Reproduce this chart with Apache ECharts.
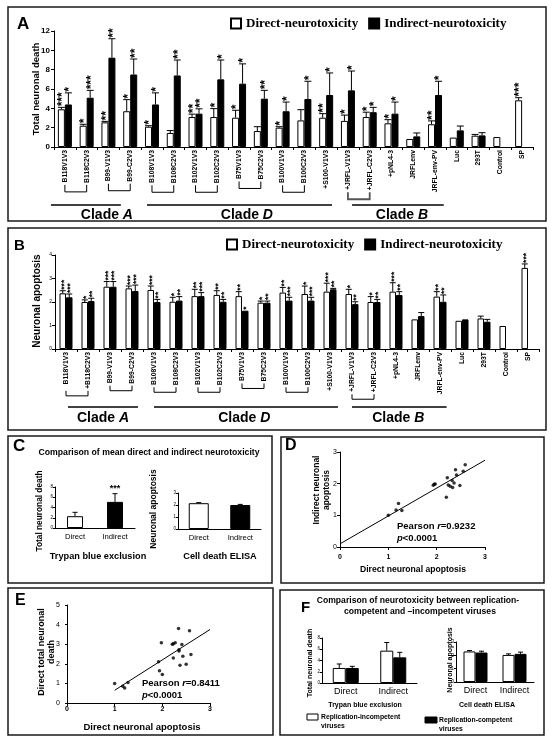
<!DOCTYPE html>
<html><head><meta charset="utf-8">
<script src="https://cdn.jsdelivr.net/npm/echarts@6/dist/echarts.min.js"></script>
<style>html,body{margin:0;padding:0;background:#fff;}#chart{width:554px;height:743px;}</style>
</head><body><div id="chart"></div>
<script>
// ---------------- DATA ----------------
const catsA = ['B118V1V3','B118C2V3','B99-V1V3','B99-C2V3','B108V1V3','B108C2V3','B102V1V3','B102C2V3','B75V1V3','B75C2V3','B100V1V3','B100C2V3','+S100-V1V3','+JRFL-V1V3','+JRFL-C2V3','+pNL4-3','JRFLenv','JRFL-env-PV','Luc','293T','Control','SP'];
const aDirect      = [3.9, 2.2, 2.55, 3.7, 2.1, 1.45, 3.1, 3.1, 3.03, 1.65, 2.0, 2.75, 3.03, 2.7, 3.1, 2.45, 0.83, 2.35, 0.97, 1.17, 1.03, 4.83];
const aDirectErr   = [4.1, 2.35, 2.65, 4.9, 2.2, 1.7, 3.4, 3.97, 3.8, 2.1, 2.1, 3.86, 3.45, 3.3, 3.6, 2.83, null, 2.7, null, 1.3, null, 5.1];
const aIndirect    = [4.4, 5.1, 9.24, 7.5, 4.4, 7.4, 3.45, 7.0, 6.55, 5.0, 3.7, 4.97, 5.38, 5.86, 3.6, 3.45, 1.1, 5.38, 1.72, 1.2, null, null];
const aIndirectErr = [5.6, 5.86, 11.2, 9.1, 5.6, 9.0, 3.95, 9.0, 8.6, 5.86, 4.65, 6.8, 7.66, 7.86, 4.1, 4.65, 1.45, 6.8, 2.17, 1.48, null, null];
const aDirectStars   = [3,1,2,1,1,0,2,1,1,0,1,0,2,1,1,1,0,2,0,0,0,3];
const aIndirectStars = [1,3,2,2,1,2,2,1,1,2,1,1,1,1,1,1,0,1,0,0,0,0];
const aTicks = {min: 0, max: 12, interval: 2};

const catsB = ['B118V1V3','+B118C2V3','B99-V1V3','B99-C2V3','B108V1V3','B108C2V3','B102V1V3','B102C2V3','B75V1V3','B75C2V3','B100V1V3','B100C2V3','+S100-V1V3','+JRFL-V1V3','+JRFL-C2V3','+pNL4-3','JRFLenv','JRFL-env-PV','Luc','293T','Control','SP'];
const bDirect      = [2.37, 2.0, 2.65, 2.58, 2.51, 2.01, 2.25, 2.3, 2.25, 1.97, 2.4, 2.34, 2.44, 2.34, 2.0, 2.44, 1.26, 2.23, 1.2, 1.3, 0.98, 3.45];
const bDirectErr   = [2.48, 2.09, 2.87, 2.68, 2.68, 2.2, 2.54, 2.48, 2.44, 2.04, 2.62, 2.68, 2.8, 2.54, 2.23, 2.82, null, 2.44, null, 1.4, null, 3.62];
const bIndirect    = [2.2, 2.04, 2.65, 2.47, 2.0, 2.06, 2.25, 2.01, 1.63, 1.97, 2.06, 2.06, 2.54, 1.91, 2.0, 2.3, 1.4, 2.01, 1.26, 1.16, null, null];
const bIndirectErr = [2.34, 2.16, 2.87, 2.72, 2.11, 2.23, 2.4, 2.11, null, 2.04, 2.2, 2.2, 2.58, 2.01, 2.11, 2.44, 1.55, 2.3, null, 1.26, null, null];
const bDirectStars   = [3,1,3,3,3,1,2,2,2,1,2,1,3,1,1,3,0,2,0,0,0,3];
const bIndirectStars = [3,2,3,3,2,2,3,2,1,2,3,3,2,2,2,2,0,2,0,0,0,0];
const bTicks = {min: 0, max: 4, interval: 1};

const cCats = ['Direct', 'Indirect'];
const cDeath = [2.3, 5.1];
const cDeathErr = [3.06, 6.7];
const cDeathStars = [0, 3];
const cApop = [2.15, 2.0];
const cApopErr = [2.2, 2.05];

const dPoints = [[1.0,1.0],[1.16,1.17],[1.21,1.37],[1.28,1.15],[1.93,1.95],[1.95,1.98],[1.97,1.99],[2.2,1.57],[2.22,2.19],[2.24,1.96],[2.28,1.92],[2.33,1.88],[2.36,2.02],[2.39,2.44],[2.41,2.27],[2.48,1.94],[2.55,2.39],[2.59,2.6],[2.32,2.1]];
const dLine = [[0, 0.1], [3, 2.74]];
const ePoints = [[1.0,1.0],[1.17,0.85],[1.21,0.77],[1.28,1.05],[1.92,2.1],[1.94,1.64],[1.98,3.07],[2.0,1.45],[2.21,3.0],[2.23,3.02],[2.27,3.07],[2.23,2.29],[2.34,3.8],[2.35,2.65],[2.37,1.93],[2.41,2.99],[2.43,2.39],[2.5,1.98],[2.57,3.69],[2.6,2.47],[2.35,2.72]];
const eLine = [[1.0, 0.65], [3.0, 3.75]];

const fCats = ['Direct', 'Indirect'];
const fDeathIncomp = [2.67, 5.75], fDeathIncompErr = [3.38, 7.2];
const fDeathComp = [2.67, 4.56], fDeathCompErr = [2.96, 5.45];
const fApopIncomp = [2.29, 2.03], fApopIncompErr = [2.36, 2.11];
const fApopComp = [2.21, 2.11], fApopCompErr = [2.31, 2.24];

// ---------------- HELPERS ----------------
const FF = '"Liberation Sans", Arial, Helvetica, sans-serif';
const FS = '"Liberation Serif", "Times New Roman", serif';
const fnt = (w, s, fam) => `${w} ${s}px ${fam || FF}`;
const nz = a => a.map(v => v == null ? '-' : v);

function errSeries(ai, vals, errs, stars, offset, cap, starFont, horiz) {
  const data = vals.map((v, i) => v == null ? [i, 0, 0, 0, 0]
    : [i, v, errs[i] == null ? v : errs[i], stars ? stars[i] : 0, 1]);
  return {
    type: 'custom', xAxisIndex: ai, yAxisIndex: ai, z: 5, silent: true,
    encode: {x: 0, y: [1, 2]}, data,
    renderItem(params, api) {
      if (!api.value(4)) return null;
      const i = api.value(0), v = api.value(1), e = api.value(2), n = api.value(3);
      const p = api.coord([i, v]), q = api.coord([i, e]);
      const x = p[0] + offset, ch = [];
      if (e > v) {
        ch.push({type: 'line', shape: {x1: x, y1: p[1], x2: x, y2: q[1]}, style: {stroke: '#000', lineWidth: 1}});
        ch.push({type: 'line', shape: {x1: x - cap, y1: q[1], x2: x + cap, y2: q[1]}, style: {stroke: '#000', lineWidth: 1}});
      }
      if (n > 0) {
        const s = '*'.repeat(n);
        if (horiz) ch.push({type: 'text', x: x, y: q[1] - 1, style: {text: s, font: starFont, fill: '#000', align: 'center', verticalAlign: 'bottom'}});
        else ch.push({type: 'text', x: x + 1.5, y: q[1] - 1, rotation: Math.PI / 2, style: {text: s, font: starFont, fill: '#000', align: 'left', verticalAlign: 'middle'}});
      }
      return {type: 'group', children: ch};
    }
  };
}
function catAxis(gi, data, lab, tick) {
  return {type: 'category', gridIndex: gi, data,
    axisLine: {lineStyle: {color: '#000', width: 1}},
    axisTick: {show: tick !== false, length: 3, lineStyle: {color: '#000'}},
    axisLabel: Object.assign({color: '#000', fontFamily: FF, interval: 0}, lab)};
}
function valAxis(gi, t, lab, extra) {
  return Object.assign({type: 'value', gridIndex: gi, min: t.min, max: t.max, interval: t.interval,
    axisLine: {show: true, lineStyle: {color: '#000', width: 1}},
    axisTick: {show: true, length: 3, lineStyle: {color: '#000'}},
    splitLine: {show: false},
    axisLabel: Object.assign({color: '#000', fontFamily: FF, margin: 3}, lab)}, extra || {});
}
const whiteBar = {color: '#fff', borderColor: '#000', borderWidth: 1};
const blackBar = {color: '#000', borderColor: '#000', borderWidth: 1};
const rotLab = {rotate: 90, fontSize: 6.8, fontWeight: 'bold', margin: 3};

// ---------------- CHART ----------------
const chart = echarts.init(document.getElementById('chart'));
const legendBase = {itemWidth: 10, itemHeight: 10, itemGap: 10, icon: 'rect', padding: 0, selectedMode: false,
  textStyle: {fontFamily: FS, fontWeight: 'bold', fontSize: 13, color: '#000'},
  data: ['Direct-neurotoxicity', 'Indirect-neurotoxicity']};

const option = {
  backgroundColor: '#fff',
  animation: false,
  legend: [Object.assign({left: 230, top: 17}, legendBase), Object.assign({left: 226, top: 238}, legendBase)],
  grid: [
    {left: 54, top: 31, width: 479, height: 116},
    {left: 55, top: 255, width: 484, height: 94},
    {left: 55, top: 487, width: 80, height: 41},
    {left: 178, top: 493, width: 83, height: 36},
    {left: 340, top: 452, width: 145, height: 95},
    {left: 67, top: 605, width: 143, height: 98},
    {left: 322, top: 638, width: 95, height: 45},
    {left: 456, top: 642, width: 78, height: 40}
  ],
  xAxis: [
    catAxis(0, catsA, rotLab),
    catAxis(1, catsB, rotLab),
    catAxis(2, cCats, {fontSize: 7.7, margin: 5}, false),
    catAxis(3, cCats, {fontSize: 7.7, margin: 5}, false),
    valAxis(4, {min: 0, max: 3, interval: 1}, {fontSize: 7, fontWeight: 'bold', margin: 2}, {offset: 5}),
    valAxis(5, {min: 0, max: 3, interval: 1}, {fontSize: 7, fontWeight: 'bold', margin: 3}),
    catAxis(6, fCats, {fontSize: 9, margin: 4}, false),
    catAxis(7, fCats, {fontSize: 9, margin: 4}, false)
  ],
  yAxis: [
    valAxis(0, aTicks, {fontSize: 8, fontWeight: 'bold', margin: 4}),
    valAxis(1, bTicks, {fontSize: 5, margin: 3}),
    valAxis(2, {min: 0, max: 8, interval: 2}, {fontSize: 4.5, margin: 2}, {axisTick: {show: true, length: 2, lineStyle: {color: '#000'}}}),
    valAxis(3, {min: 0, max: 3, interval: 1}, {fontSize: 4.5, margin: 2}, {axisTick: {show: true, length: 2, lineStyle: {color: '#000'}}}),
    valAxis(4, {min: 0, max: 3, interval: 1}, {fontSize: 7, margin: 3}),
    valAxis(5, {min: 0, max: 5, interval: 1}, {fontSize: 7, margin: 2}, {offset: 5, axisTick: {show: true, length: 2, lineStyle: {color: '#000'}}}),
    valAxis(6, {min: 0, max: 8, interval: 2}, {fontSize: 4.5, margin: 2}, {axisTick: {show: true, length: 2, lineStyle: {color: '#000'}}}),
    valAxis(7, {min: 0, max: 3, interval: 1}, {fontSize: 4.5, margin: 2}, {axisTick: {show: true, length: 2, lineStyle: {color: '#000'}}})
  ],
  series: [
    {name: 'Direct-neurotoxicity', type: 'bar', xAxisIndex: 0, yAxisIndex: 0, data: nz(aDirect), barWidth: 7, barGap: '0%', itemStyle: whiteBar},
    {name: 'Indirect-neurotoxicity', type: 'bar', xAxisIndex: 0, yAxisIndex: 0, data: nz(aIndirect), barWidth: 7, barGap: '0%', itemStyle: blackBar},
    errSeries(0, aDirect, aDirectErr, aDirectStars, -3.5, 3.5, fnt('bold', 12)),
    errSeries(0, aIndirect, aIndirectErr, aIndirectStars, 3.5, 3.5, fnt('bold', 12)),

    {name: 'Direct-neurotoxicity', type: 'bar', xAxisIndex: 1, yAxisIndex: 1, data: nz(bDirect), barWidth: 6.5, barGap: '0%', itemStyle: whiteBar},
    {name: 'Indirect-neurotoxicity', type: 'bar', xAxisIndex: 1, yAxisIndex: 1, data: nz(bIndirect), barWidth: 6.5, barGap: '0%', itemStyle: blackBar},
    errSeries(1, bDirect, bDirectErr, bDirectStars, -3.25, 3, fnt('bold', 8.5)),
    errSeries(1, bIndirect, bIndirectErr, bIndirectStars, 3.25, 3, fnt('bold', 8.5)),

    {type: 'bar', xAxisIndex: 2, yAxisIndex: 2, barWidth: 16,
      data: cDeath.map((v, i) => ({value: v, itemStyle: i ? blackBar : whiteBar}))},
    errSeries(2, cDeath, cDeathErr, cDeathStars, 0, 2.5, fnt('bold', 9), true),
    {type: 'bar', xAxisIndex: 3, yAxisIndex: 3, barWidth: 20,
      data: cApop.map((v, i) => ({value: v, itemStyle: i ? blackBar : whiteBar}))},
    errSeries(3, cApop, cApopErr, null, 0, 2.5, fnt('bold', 9), true),

    {type: 'scatter', xAxisIndex: 4, yAxisIndex: 4, data: dPoints, symbol: 'circle', symbolSize: 3.5, itemStyle: {color: '#000'}},
    {type: 'line', xAxisIndex: 4, yAxisIndex: 4, data: dLine, showSymbol: false, lineStyle: {color: '#000', width: 1}},
    {type: 'scatter', xAxisIndex: 5, yAxisIndex: 5, data: ePoints, symbol: 'circle', symbolSize: 3.5, itemStyle: {color: '#000'}},
    {type: 'line', xAxisIndex: 5, yAxisIndex: 5, data: eLine, showSymbol: false, lineStyle: {color: '#000', width: 1}},

    {name: 'Replication-incompetent viruses', type: 'bar', xAxisIndex: 6, yAxisIndex: 6, data: fDeathIncomp, barWidth: 13, barGap: '0%', itemStyle: whiteBar},
    {name: 'Replication-competent viruses', type: 'bar', xAxisIndex: 6, yAxisIndex: 6, data: fDeathComp, barWidth: 13, barGap: '0%', itemStyle: blackBar},
    errSeries(6, fDeathIncomp, fDeathIncompErr, null, -6.5, 2.5, ''),
    errSeries(6, fDeathComp, fDeathCompErr, null, 6.5, 2.5, ''),
    {name: 'Replication-incompetent viruses', type: 'bar', xAxisIndex: 7, yAxisIndex: 7, data: fApopIncomp, barWidth: 12, barGap: '0%', itemStyle: whiteBar},
    {name: 'Replication-competent viruses', type: 'bar', xAxisIndex: 7, yAxisIndex: 7, data: fApopComp, barWidth: 12, barGap: '0%', itemStyle: blackBar},
    errSeries(7, fApopIncomp, fApopIncompErr, null, -6, 2.5, ''),
    errSeries(7, fApopComp, fApopCompErr, null, 6, 2.5, '')
  ]
};
chart.setOption(option);

// ---------------- ANNOTATIONS ----------------
const mctx = document.createElement('canvas').getContext('2d');
function tw(t, font) { mctx.font = font; return mctx.measureText(t).width; }
function htext(x, y, text, font, align) {
  return {type: 'text', x, y, silent: true, style: {text, font, fill: '#000', align: align || 'center', verticalAlign: 'middle'}};
}
function vtext(x, y, text, font, lh) {
  return {type: 'text', x, y, rotation: Math.PI / 2, silent: true,
    style: {text, font, fill: '#000', align: 'center', verticalAlign: 'middle', lineHeight: lh || undefined}};
}
function rich(x, y, text, size, align) {
  return {type: 'text', x, y, silent: true, style: {text, fill: '#000', align: align || 'left', verticalAlign: 'middle',
    rich: {n: {fontFamily: FF, fontWeight: 'bold', fontSize: size, fill: '#000'},
           i: {fontFamily: FF, fontWeight: 'bold', fontStyle: 'italic', fontSize: size, fill: '#000'}}}};
}
function box(x, y, w, h) {
  return {type: 'rect', shape: {x, y, width: w, height: h}, silent: true, style: {fill: 'none', stroke: '#1a1a1a', lineWidth: 1.5}};
}
function catX(ai, cats, f) {
  const p0 = chart.convertToPixel({xAxisIndex: ai}, cats[0]);
  const p1 = chart.convertToPixel({xAxisIndex: ai}, cats[1]);
  return p0 + f * (p1 - p0);
}
const g = [];
[[8, 7, 538, 214], [8, 228, 538, 202], [8, 436, 264, 147], [281, 437, 263, 146], [8, 588, 265, 147], [280, 590, 264, 145]]
  .forEach(b => g.push(box(...b)));
g.push(htext(17, 24, 'A', fnt('bold', 17), 'left'));
g.push(htext(14, 246, 'B', fnt('bold', 15), 'left'));
g.push(htext(13, 446, 'C', fnt('bold', 17), 'left'));
g.push(htext(285, 446, 'D', fnt('bold', 16), 'left'));
g.push(htext(15, 601, 'E', fnt('bold', 16), 'left'));
g.push(htext(301, 608, 'F', fnt('bold', 15), 'left'));

g.push(vtext(36, 89, 'Total neuronal death', fnt('bold', 9.5)));
g.push(vtext(37, 301, 'Neuronal apoptosis', fnt('bold', 10)));

// brackets and clade lines
const pairs = [[0, 1], [2, 3], [4, 5], [6, 7], [8, 9], [10, 11], [13, 14]];
function clade(ai, cats, yAxis0, depth, lineY, textY, spans, labelFont) {
  const labF = fnt('bold', 6.8);
  pairs.forEach((p, k) => {
    const x1 = catX(ai, cats, p[0]), x2 = catX(ai, cats, p[1]);
    const w = Math.max(tw(cats[p[0]], labF), tw(cats[p[1]], labF));
    const top = yAxis0 + 3 + w + 2, bot = top + depth;
    const special = ai === 0 && k === 6;
    g.push({type: 'polyline', silent: true, shape: {points: [[x1, top], [x1, bot], [x2, bot], [x2, top]]},
      style: {fill: 'none', stroke: special ? '#555' : '#000', lineWidth: special ? 1.8 : 1}});
  });
  spans.forEach(s => {
    g.push({type: 'line', silent: true, shape: {x1: catX(ai, cats, s.from), y1: lineY, x2: catX(ai, cats, s.to), y2: lineY},
      style: {stroke: '#000', lineWidth: 1.5}});
    g.push(rich(catX(ai, cats, s.mid), textY, '{n|Clade }{i|' + s.name + '}', 14, 'center'));
  });
}
const yA0 = chart.convertToPixel({yAxisIndex: 0}, 0);
const yB0 = chart.convertToPixel({yAxisIndex: 1}, 0);
clade(0, catsA, yA0, 7, 205, 215, [
  {name: 'A', from: -0.64, to: 2.57, mid: 1.93},
  {name: 'D', from: 3.77, to: 12.27, mid: 8.36},
  {name: 'B', from: 13.19, to: 17.4, mid: 15.48}]);
clade(1, catsB, yB0, 5, 407, 418, [
  {name: 'A', from: 0.09, to: 3.27, mid: 1.68},
  {name: 'D', from: 4.0, to: 12.36, mid: 8.1},
  {name: 'B', from: 13.0, to: 17.3, mid: 15.1}]);

// C
g.push(htext(149, 453, 'Comparison of mean direct and indirect neurotoxicity', fnt('bold', 8.7)));
g.push(vtext(40, 511, 'Total neuronal death', fnt('bold', 8.3)));
g.push(vtext(154, 509, 'Neuronal apoptosis', fnt('bold', 8.5)));
g.push(htext(98, 556, 'Trypan blue exclusion', fnt('bold', 9.2)));
g.push(htext(220, 556, 'Cell death ELISA', fnt('bold', 9.2)));
// D
g.push(vtext(322, 490, 'Indirect neuronal\napoptosis', fnt('bold', 8.5), 10));
g.push(htext(413, 570, 'Direct neuronal apoptosis', fnt('bold', 8.6)));
g.push(rich(397, 526, '{n|Pearson }{i|r}{n|=0.9232}', 9.5));
g.push(rich(397, 538, '{i|p}{n|<0.0001}', 9.5));
// E
g.push(vtext(47, 652, 'Direct total neuronal\ndeath', fnt('bold', 9), 10));
g.push(htext(142, 727, 'Direct neuronal apoptosis', fnt('bold', 9.5)));
g.push(rich(142, 683, '{n|Pearson }{i|r}{n|=0.8411}', 9.5));
g.push(rich(142, 695, '{i|p}{n|<0.0001}', 9.5));
// F
g.push(htext(418, 601, 'Comparison of neurotoxicity between replication-', fnt('bold', 8.6)));
g.push(htext(420, 612, 'competent and \u2013incompetent viruses', fnt('bold', 8.6)));
g.push(vtext(310, 663, 'Total neuronal death', fnt('bold', 7)));
g.push(vtext(450, 660, 'Neuronal apoptosis', fnt('bold', 7)));
g.push(htext(365, 705, 'Trypan blue exclusion', fnt('bold', 7)));
g.push(htext(487, 705, 'Cell death ELISA', fnt('bold', 7)));
g.push({type: 'rect', silent: true, shape: {x: 307, y: 714, width: 11, height: 6}, style: {fill: '#fff', stroke: '#000', lineWidth: 1}});
g.push({type: 'text', silent: true, x: 321, y: 712.5, style: {text: 'Replication-incompetent\nviruses', font: fnt('bold', 6.8), fill: '#000', align: 'left', verticalAlign: 'top', lineHeight: 9}});
g.push({type: 'rect', silent: true, shape: {x: 425, y: 717, width: 12, height: 6}, style: {fill: '#000', stroke: '#000', lineWidth: 1}});
g.push({type: 'text', silent: true, x: 439, y: 715.5, style: {text: 'Replication-competent\nviruses', font: fnt('bold', 6.8), fill: '#000', align: 'left', verticalAlign: 'top', lineHeight: 9}});

chart.setOption({graphic: g});
</script></body></html>
